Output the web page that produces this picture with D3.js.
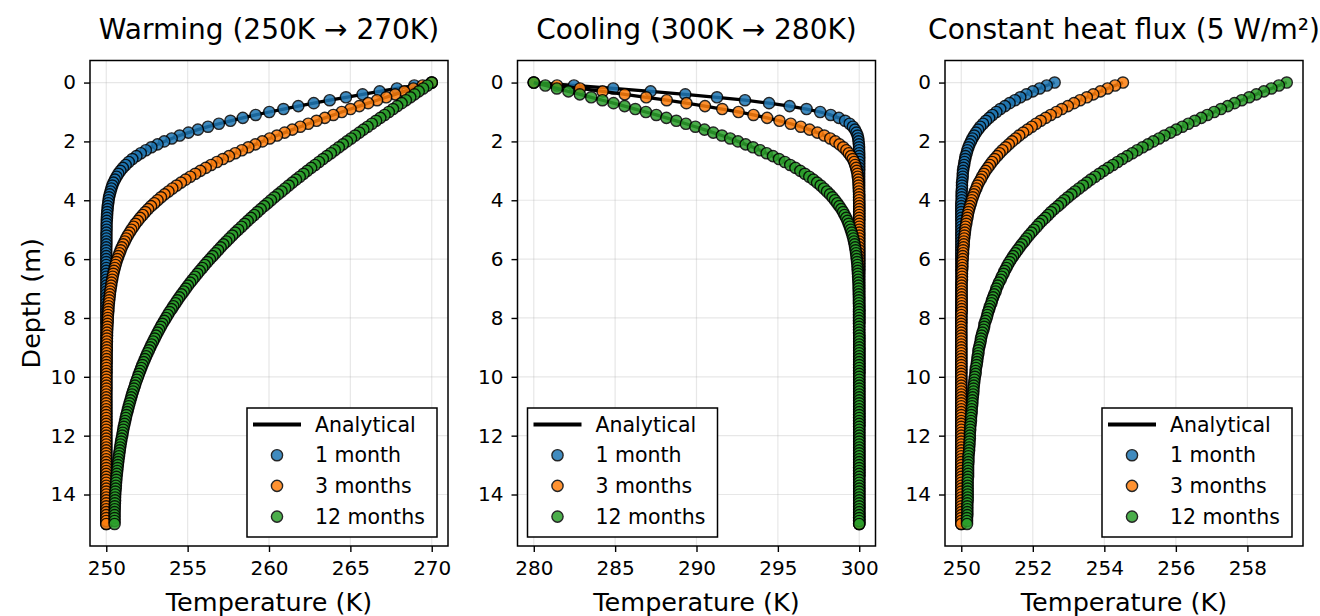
<!DOCTYPE html>
<html>
<head>
<meta charset="utf-8">
<script src="https://cdn.jsdelivr.net/npm/d3@7"></script>
<style>
  body { margin: 0; background: #fff; }
  svg { display: block; }
  text { font-family: "DejaVu Sans", sans-serif; fill: #000; }
</style>
</head>
<body>
<div id="chart"></div>
<script>
"use strict"

// depth of every node (m)
const depth = [
  0,0.1,0.2,0.3,0.4,0.5,0.6,0.7,0.8,0.9,
  1,1.1,1.2,1.3,1.4,1.5,1.6,1.7,1.8,1.9,
  2,2.1,2.2,2.3,2.4,2.5,2.6,2.7,2.8,2.9,
  3,3.1,3.2,3.3,3.4,3.5,3.6,3.7,3.8,3.9,
  4,4.1,4.2,4.3,4.4,4.5,4.6,4.7,4.8,4.9,
  5,5.1,5.2,5.3,5.4,5.5,5.6,5.7,5.8,5.9,
  6,6.1,6.2,6.3,6.4,6.5,6.6,6.7,6.8,6.9,
  7,7.1,7.2,7.3,7.4,7.5,7.6,7.7,7.8,7.9,
  8,8.1,8.2,8.3,8.4,8.5,8.6,8.7,8.8,8.9,
  9,9.1,9.2,9.3,9.4,9.5,9.6,9.7,9.8,9.9,
  10,10.1,10.2,10.3,10.4,10.5,10.6,10.7,10.8,10.9,
  11,11.1,11.2,11.3,11.4,11.5,11.6,11.7,11.8,11.9,
  12,12.1,12.2,12.3,12.4,12.5,12.6,12.7,12.8,12.9,
  13,13.1,13.2,13.3,13.4,13.5,13.6,13.7,13.8,13.9,
  14,14.1,14.2,14.3,14.4,14.5,14.6,14.7,14.8,14.9,
  15
]

// warming, temperature (K) at each depth
const warm1 = [
  270,268.93,267.86,266.8,265.75,264.73,263.73,262.75,261.8,260.89,
  260.02,259.18,258.39,257.63,256.92,256.25,255.63,255.05,254.51,254.02,
  253.56,253.15,252.77,252.43,252.12,251.85,251.6,251.38,251.19,251.02,
  250.87,250.74,250.63,250.53,250.44,250.37,250.31,250.26,250.21,250.17,
  250.14,250.12,250.09,250.08,250.06,250.05,250.04,250.03,250.02,250.02,
  250.02,250.01,250.01,250.01,250.01,250.01,250,250,250,250,
  250,250,250,250,250,250,250,250,250,250,
  250,250,250,250,250,250,250,250,250,250,
  250,250,250,250,250,250,250,250,250,250,
  250,250,250,250,250,250,250,250,250,250,
  250,250,250,250,250,250,250,250,250,250,
  250,250,250,250,250,250,250,250,250,250,
  250,250,250,250,250,250,250,250,250,250,
  250,250,250,250,250,250,250,250,250,250,
  250,250,250,250,250,250,250,250,250,250,
  250
]
const warm3 = [
  270,269.44,268.87,268.31,267.75,267.2,266.64,266.09,265.55,265.01,
  264.47,263.95,263.43,262.92,262.41,261.92,261.43,260.96,260.49,260.04,
  259.59,259.16,258.73,258.33,257.92,257.54,257.16,256.8,256.44,256.11,
  255.78,255.47,255.16,254.87,254.59,254.32,254.06,253.82,253.58,253.36,
  253.15,252.95,252.75,252.57,252.4,252.24,252.08,251.94,251.79,251.67,
  251.54,251.43,251.32,251.22,251.13,251.04,250.95,250.88,250.81,250.74,
  250.68,250.62,250.57,250.52,250.47,250.43,250.39,250.36,250.32,250.3,
  250.27,250.24,250.22,250.2,250.18,250.16,250.14,250.13,250.12,250.1,
  250.09,250.09,250.08,250.07,250.06,250.05,250.05,250.04,250.04,250.03,
  250.03,250.03,250.02,250.02,250.02,250.02,250.01,250.01,250.01,250.01,
  250.01,250.01,250.01,250.01,250.01,250,250,250,250,250,
  250,250,250,250,250,250,250,250,250,250,
  250,250,250,250,250,250,250,250,250,250,
  250,250,250,250,250,250,250,250,250,250,
  250,250,250,250,250,250,250,250,250,250,
  250
]
const warm12 = [
  270,269.73,269.47,269.2,268.94,268.68,268.41,268.15,267.88,267.62,
  267.36,267.1,266.84,266.58,266.32,266.06,265.8,265.55,265.29,265.04,
  264.79,264.54,264.29,264.04,263.8,263.55,263.31,263.07,262.83,262.59,
  262.35,262.12,261.89,261.66,261.43,261.21,260.99,260.77,260.55,260.33,
  260.12,259.91,259.7,259.49,259.29,259.09,258.89,258.69,258.5,258.31,
  258.11,257.92,257.74,257.56,257.38,257.2,257.03,256.87,256.7,256.53,
  256.37,256.21,256.05,255.9,255.74,255.6,255.45,255.3,255.16,255.02,
  254.89,254.76,254.62,254.49,254.37,254.25,254.12,254.01,253.89,253.78,
  253.67,253.56,253.45,253.35,253.25,253.15,253.06,252.97,252.88,252.78,
  252.7,252.62,252.53,252.45,252.37,252.3,252.22,252.15,252.08,252.01,
  251.95,251.88,251.81,251.76,251.7,251.64,251.58,251.53,251.48,251.43,
  251.38,251.33,251.29,251.24,251.2,251.16,251.12,251.08,251.04,251.01,
  250.98,250.94,250.91,250.88,250.85,250.83,250.8,250.78,250.75,250.73,
  250.71,250.69,250.67,250.65,250.63,250.62,250.6,250.59,250.58,250.56,
  250.55,250.54,250.54,250.53,250.52,250.52,250.51,250.51,250.51,250.51,
  250.51
]

// cooling
const cool1 = [
  280,282.47,284.88,287.18,289.31,291.26,292.98,294.46,295.72,296.76,
  297.6,298.25,298.75,299.13,299.41,299.61,299.74,299.83,299.9,299.94,
  299.96,299.98,299.99,299.99,300,300,300,300,300,300,
  300,300,300,300,300,300,300,300,300,300,
  300,300,300,300,300,300,300,300,300,300,
  300,300,300,300,300,300,300,300,300,300,
  300,300,300,300,300,300,300,300,300,300,
  300,300,300,300,300,300,300,300,300,300,
  300,300,300,300,300,300,300,300,300,300,
  300,300,300,300,300,300,300,300,300,300,
  300,300,300,300,300,300,300,300,300,300,
  300,300,300,300,300,300,300,300,300,300,
  300,300,300,300,300,300,300,300,300,300,
  300,300,300,300,300,300,300,300,300,300,
  300,300,300,300,300,300,300,300,300,300,
  300
]
const cool3 = [
  280,281.43,282.84,284.23,285.59,286.91,288.17,289.38,290.52,291.58,
  292.58,293.5,294.34,295.1,295.79,296.41,296.95,297.43,297.85,298.22,
  298.53,298.79,299.02,299.21,299.36,299.49,299.6,299.69,299.75,299.81,
  299.85,299.89,299.91,299.94,299.95,299.96,299.97,299.98,299.99,299.99,
  299.99,300,300,300,300,300,300,300,300,300,
  300,300,300,300,300,300,300,300,300,300,
  300,300,300,300,300,300,300,300,300,300,
  300,300,300,300,300,300,300,300,300,300,
  300,300,300,300,300,300,300,300,300,300,
  300,300,300,300,300,300,300,300,300,300,
  300,300,300,300,300,300,300,300,300,300,
  300,300,300,300,300,300,300,300,300,300,
  300,300,300,300,300,300,300,300,300,300,
  300,300,300,300,300,300,300,300,300,300,
  300,300,300,300,300,300,300,300,300,300,
  300
]
const cool12 = [
  280,280.71,281.42,282.13,282.83,283.53,284.22,284.9,285.58,286.24,
  286.89,287.53,288.15,288.76,289.35,289.93,290.49,291.03,291.56,292.07,
  292.55,293.02,293.47,293.9,294.31,294.7,295.07,295.43,295.76,296.08,
  296.38,296.66,296.93,297.18,297.41,297.63,297.83,298.02,298.2,298.36,
  298.51,298.65,298.78,298.9,299.01,299.1,299.2,299.28,299.35,299.42,
  299.48,299.54,299.59,299.64,299.68,299.72,299.75,299.78,299.81,299.83,
  299.85,299.87,299.89,299.9,299.91,299.92,299.93,299.94,299.95,299.96,
  299.96,299.97,299.97,299.98,299.98,299.98,299.99,299.99,299.99,299.99,
  299.99,299.99,299.99,299.99,299.99,299.99,300,300,300,300,
  300,300,300,300,300,300,300,300,300,300,
  300,300,300,300,300,300,300,300,300,300,
  300,300,300,300,300,300,300,300,300,300,
  300,300,300,300,300,300,300,300,300,300,
  300,300,300,300,300,300,300,300,300,300,
  300,300,300,300,300,300,300,300,300,300,
  300
]

// constant heat flux
const flux1 = [
  252.61,252.39,252.19,252,251.82,251.65,251.5,251.35,251.22,251.09,
  250.98,250.87,250.78,250.69,250.61,250.53,250.47,250.41,250.36,250.31,
  250.27,250.23,250.2,250.17,250.15,250.12,250.11,250.09,250.08,250.06,
  250.05,250.04,250.04,250.03,250.02,250.02,250.02,250.01,250.01,250.01,
  250.01,250,250,250,250,250,250,250,250,250,
  250,250,250,250,250,250,250,250,250,250,
  250,250,250,250,250,250,250,250,250,250,
  250,250,250,250,250,250,250,250,250,250,
  250,250,250,250,250,250,250,250,250,250,
  250,250,250,250,250,250,250,250,250,250,
  250,250,250,250,250,250,250,250,250,250,
  250,250,250,250,250,250,250,250,250,250,
  250,250,250,250,250,250,250,250,250,250,
  250,250,250,250,250,250,250,250,250,250,
  250,250,250,250,250,250,250,250,250,250,
  250
]
const flux3 = [
  254.52,254.3,254.09,253.89,253.69,253.51,253.32,253.15,252.98,252.81,
  252.66,252.5,252.36,252.22,252.09,251.97,251.85,251.73,251.62,251.52,
  251.42,251.33,251.24,251.15,251.07,251,250.93,250.86,250.8,250.74,
  250.68,250.63,250.58,250.54,250.49,250.45,250.42,250.38,250.35,250.32,
  250.29,250.27,250.24,250.22,250.2,250.18,250.17,250.15,250.14,250.12,
  250.11,250.1,250.09,250.08,250.07,250.07,250.06,250.05,250.05,250.04,
  250.04,250.03,250.03,250.03,250.02,250.02,250.02,250.02,250.01,250.01,
  250.01,250.01,250.01,250.01,250.01,250.01,250.01,250.01,250.01,250,
  250,250,250,250,250,250,250,250,250,250,
  250,250,250,250,250,250,250,250,250,250,
  250,250,250,250,250,250,250,250,250,250,
  250,250,250,250,250,250,250,250,250,250,
  250,250,250,250,250,250,250,250,250,250,
  250,250,250,250,250,250,250,250,250,250,
  250,250,250,250,250,250,250,250,250,250,
  250
]
const flux12 = [
  259.1,258.88,258.67,258.46,258.25,258.05,257.84,257.64,257.45,257.26,
  257.07,256.88,256.71,256.53,256.35,256.18,256.01,255.85,255.68,255.53,
  255.37,255.22,255.07,254.92,254.78,254.64,254.5,254.37,254.24,254.11,
  253.98,253.86,253.74,253.62,253.51,253.4,253.29,253.18,253.08,252.98,
  252.88,252.79,252.7,252.6,252.51,252.43,252.35,252.26,252.18,252.11,
  252.03,251.96,251.89,251.82,251.76,251.69,251.63,251.57,251.51,251.45,
  251.4,251.35,251.3,251.26,251.21,251.18,251.13,251.1,251.05,251.02,
  250.98,250.96,250.92,250.89,250.86,250.84,250.8,250.78,250.75,250.73,
  250.71,250.68,250.65,250.64,250.62,250.59,250.57,250.55,250.54,250.52,
  250.5,250.48,250.48,250.46,250.45,250.44,250.43,250.41,250.4,250.4,
  250.38,250.37,250.36,250.35,250.34,250.34,250.33,250.32,250.31,250.31,
  250.3,250.29,250.29,250.28,250.27,250.27,250.26,250.25,250.25,250.24,
  250.24,250.24,250.23,250.23,250.22,250.22,250.21,250.2,250.2,250.2,
  250.19,250.19,250.19,250.19,250.19,250.18,250.18,250.18,250.18,250.18,
  250.18,250.18,250.18,250.17,250.17,250.17,250.17,250.17,250.16,250.16,
  250.16
]

const seriesLabels = ["1 month", "3 months", "12 months"]
const seriesColors = ["#1f77b4", "#ff7f0e", "#2ca02c"]
const titles = ["Warming (250K \u2192 270K)", "Cooling (300K \u2192 280K)", "Constant heat flux (5 W/m\u00b2)"]
const xTicks = [[250, 255, 260, 265, 270], [280, 285, 290, 295, 300], [250, 252, 254, 256, 258]]
const yTicks = [0, 2, 4, 6, 8, 10, 12, 14]

const panels = [
  { title: titles[0], ticks: xTicks[0], series: [warm1, warm3, warm12], legend: "right" },
  { title: titles[1], ticks: xTicks[1], series: [cool1, cool3, cool12], legend: "left" },
  { title: titles[2], ticks: xTicks[2], series: [flux1, flux3, flux12], legend: "right" }
]

const W = 1320, H = 616
const axW = 358, axTop = 60.5, axBottom = 546
const lefts = [90, 517.5, 945]

const svg = d3.select("#chart").append("svg")
  .attr("width", W).attr("height", H)

// matplotlib-like 5% padding on the data range
const pad = ([a, b]) => [a - (b - a) * 0.05, b + (b - a) * 0.05]

const y = d3.scaleLinear()
  .domain(pad(d3.extent(depth)))
  .range([axTop, axBottom])

panels.forEach((p, pi) => {
  const left = lefts[pi]
  const x = d3.scaleLinear()
    .domain(pad(d3.extent(p.series.flat())))
    .range([left, left + axW])

  const g = svg.append("g")

  // grid
  g.append("g").selectAll("line").data(p.ticks).join("line")
    .attr("x1", d => x(d)).attr("x2", d => x(d))
    .attr("y1", axTop).attr("y2", axBottom)
    .attr("stroke", "#b0b0b0").attr("stroke-opacity", 0.3).attr("stroke-width", 1.2)
  g.append("g").selectAll("line").data(yTicks).join("line")
    .attr("x1", left).attr("x2", left + axW)
    .attr("y1", d => y(d)).attr("y2", d => y(d))
    .attr("stroke", "#b0b0b0").attr("stroke-opacity", 0.3).attr("stroke-width", 1.2)

  // data: analytical line under the numerical points for each time
  const plot = g.append("g")
  p.series.forEach((s, si) => {
    plot.append("path")
      .datum(d3.range(depth.length))
      .attr("fill", "none")
      .attr("stroke", "#000")
      .attr("stroke-width", 3.3)
      .attr("stroke-linejoin", "round")
      .attr("d", d3.line().x(i => x(s[i])).y(i => y(depth[i])))
    plot.append("g").selectAll("circle").data(d3.range(depth.length)).join("circle")
      .attr("cx", i => x(s[i]))
      .attr("cy", i => y(depth[i]))
      .attr("r", 5.6)
      .attr("fill", seriesColors[si])
      .attr("stroke", "#000")
      .attr("stroke-width", 1.4)
      .attr("opacity", 0.85)
  })

  // axes
  const xAxis = g.append("g")
    .attr("transform", `translate(0,${axBottom})`)
    .call(d3.axisBottom(x).tickValues(p.ticks).tickSize(6).tickPadding(9).tickFormat(d3.format("d")))
  const yAxis = g.append("g")
    .attr("transform", `translate(${left},0)`)
    .call(d3.axisLeft(y).tickValues(yTicks).tickSize(6).tickPadding(8).tickFormat(d3.format("d")))
  ;[xAxis, yAxis].forEach(a => {
    a.select(".domain").remove()
    a.selectAll(".tick line").attr("stroke", "#000").attr("stroke-width", 1.4)
    a.selectAll(".tick text").attr("font-size", 20).attr("font-family", "DejaVu Sans").attr("fill", "#000")
  })

  // frame
  g.append("rect")
    .attr("x", left).attr("y", axTop)
    .attr("width", axW).attr("height", axBottom - axTop)
    .attr("fill", "none").attr("stroke", "#000").attr("stroke-width", 1.5)

  // titles and labels
  g.append("text")
    .attr("x", left + axW / 2).attr("y", 38.5)
    .attr("text-anchor", "middle").attr("font-size", 28)
    .text(p.title)
  g.append("text")
    .attr("x", left + axW / 2).attr("y", 611)
    .attr("text-anchor", "middle").attr("font-size", 25.5)
    .text("Temperature (K)")
  if (pi === 0) {
    g.append("text")
      .attr("transform", `translate(31,${(axTop + axBottom) / 2}) rotate(-90)`)
      .attr("text-anchor", "middle").attr("dominant-baseline", "central")
      .attr("font-size", 25.5)
      .text("Depth (m)")
  }

  // legend
  const lw = 190, lh = 129
  const lx = p.legend === "right" ? left + axW - 11 - lw : left + 10
  const ly = axBottom - 9 - lh
  const lg = g.append("g").attr("transform", `translate(${lx},${ly})`)
  lg.append("rect")
    .attr("width", lw).attr("height", lh)
    .attr("fill", "#fff").attr("stroke", "#000").attr("stroke-width", 1.5)
  const rowY = k => 16.5 + k * 30.7
  lg.append("line")
    .attr("x1", 6).attr("x2", 54).attr("y1", rowY(0)).attr("y2", rowY(0))
    .attr("stroke", "#000").attr("stroke-width", 4)
  lg.append("text")
    .attr("x", 68).attr("y", rowY(0)).attr("dominant-baseline", "central")
    .attr("font-size", 20.5).text("Analytical")
  seriesLabels.forEach((lab, k) => {
    lg.append("circle")
      .attr("cx", 30).attr("cy", rowY(k + 1)).attr("r", 5.6)
      .attr("fill", seriesColors[k]).attr("stroke", "#000").attr("stroke-width", 1.4)
      .attr("opacity", 0.85)
    lg.append("text")
      .attr("x", 68).attr("y", rowY(k + 1)).attr("dominant-baseline", "central")
      .attr("font-size", 20.5).text(lab)
  })
})
</script>
</body>
</html>
